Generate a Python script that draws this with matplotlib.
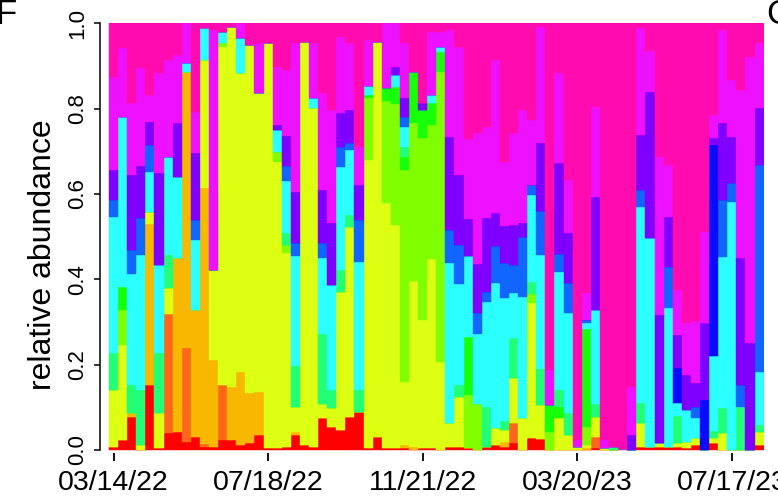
import numpy as np
import matplotlib
matplotlib.use("Agg")
import matplotlib.pyplot as plt
from matplotlib import font_manager

# Weekly samples, relative abundance (%) per taxon group, bottom to top of each stack
red = [0.8, 2.3, 7.7, 0, 15.2, 0.4, 3.9, 4.3, 2.0, 3.1,
       0.6, 0.8, 2.3, 2.3, 1.2, 1.6, 3.5, 0.4, 0.4, 0.8,
       3.5, 1.2, 0.8, 7.4, 5.5, 4.7, 7.8, 9.0, 0.4, 3.1,
       0.4, 0.4, 0.4, 0, 0.4, 0.4, 0, 0.8, 0.8, 0.4,
       0, 0.8, 1.2, 0.8, 1.6, 0, 2.7, 2.7, 0, 0,
       0, 0, 0, 0.4, 0, 0, 0.3, 0, 0.8, 0.8,
       0.8, 0.8, 0.8, 0.4, 1.2, 0, 1.6, 0, 0, 0,
       0, 1.2]
orange_red = [0, 0, 0, 0, 0, 0, 28.0, 0, 21.9, 0,
              0.9, 0, 12.9, 0, 0, 0, 0, 0, 0, 0,
              0, 0, 0, 0, 0, 0, 0, 0, 0, 0,
              0, 0, 0, 0, 0, 0, 0, 0, 0, 0,
              0, 0, 0, 0, 4.7, 0, 0, 0, 0, 0,
              0, 0, 0, 2.7, 0, 0, 0, 0, 0, 0,
              0, 0, 0, 0, 0, 0, 0, 0, 0, 0,
              0, 0]
orange = [0, 0, 0.9, 0, 37.9, 0, 0, 40.6, 64.8, 29.7,
          59.8, 20.3, 0, 12.5, 17.2, 11.7, 10.2, 0, 0, 0,
          0.8, 0, 0, 0, 0, 0, 0, 0, 0, 0,
          0, 0, 0.8, 0.6, 0, 0, 0, 0, 0, 0,
          0, 0, 0, 1.2, 0, 0, 0, 0, 0, 0,
          0, 0, 0.4, 0, 0, 0, 0, 0, 0, 0,
          0, 0, 0, 0, 0, 0, 0, 0, 0, 0,
          0, 0]
yellow = [13.3, 22.3, 0, 1.2, 2.7, 8.2, 6.0, 0, 0, 0,
          30.1, 21.1, 79.3, 84.4, 69.9, 81.6, 69.9, 94.9, 67.2, 45.3,
          5.9, 94.5, 79.3, 3.5, 4.3, 32.4, 44.5, 0, 67.6, 92.6,
          57.4, 52.3, 14.8, 38.9, 30.1, 44.5, 20.7, 5.5, 11.7, 0,
          0, 0, 3.9, 2.7, 10.5, 7.4, 31.6, 7.8, 0, 7.4,
          3.5, 0.8, 0.8, 4.7, 0.4, 0, 0, 0, 5.5, 0,
          0.8, 0, 0.8, 1.6, 1.6, 0, 1.2, 3.9, 0, 0,
          0, 3.1]
chartreuse = [0, 8.2, 0, 0, 0, 0, 0, 0, 0, 0,
              0, 0, 0.8, 0, 0, 0, 0, 0, 2.3, 2.0,
              0, 0, 0, 0, 0, 0, 0, 0, 14.5, 0,
              23.8, 28.5, 49.6, 37.1, 42.6, 31.3, 68.0, 0, 0, 12.5,
              10.9, 0, 0, 0, 0, 0, 2.3, 0, 4.3, 0,
              0, 0, 4.3, 0, 0, 0, 0, 0, 0, 0,
              0, 0, 0, 0, 0, 0, 0, 0, 0, 0,
              0, 0]
green = [0, 5.5, 0, 0, 0, 0, 0, 0, 0, 0,
         0, 0, 0, 0, 0, 0, 0, 0, 0, 0,
         0, 0, 0, 0, 0, 0, 0, 0, 0.8, 0,
         3.1, 3.9, 3.1, 12.1, 6.6, 5.1, 4.7, 0, 0, 13.7,
         0, 0, 0, 0, 0, 0, 0, 0, 6.3, 2.7,
         0, 0, 23.0, 0, 0, 0, 0, 0, 0, 0,
         0, 0, 0, 0, 0, 0, 0, 0, 0, 0,
         0, 0]
spring = [8.6, 0, 6.6, 12.9, 0, 14.1, 7.8, 0, 0, 0,
          0, 0, 0, 0, 0, 0, 0, 0, 0, 2.7,
          9.4, 0, 0, 16.4, 4.3, 5.1, 2.7, 5.1, 0, 0,
          0, 0, 2.3, 0, 0, 0, 0, 0, 2.7, 0,
          0, 9.4, 0, 2.0, 9.4, 0, 2.7, 8.6, 0, 3.9,
          5.1, 0, 0, 3.1, 0, 0.8, 0, 0, 4.7, 0,
          0, 0, 6.3, 0, 0, 0, 1.6, 5.9, 0, 10.2,
          0, 1.6]
cyan = [32.0, 39.8, 26.2, 31.6, 9.4, 20.7, 23.0, 19.1, 2.0, 16.4,
        7.4, 0, 2.7, 0, 8.2, 0, 0, 0, 5.1, 12.1,
        25.8, 0, 2.3, 17.6, 24.6, 24.2, 15.2, 30.1, 2.0, 0,
        0, 2.7, 4.7, 0, 0, 2.0, 1.2, 37.5, 23.8, 19.1,
        16.4, 24.6, 34.0, 28.9, 10.5, 28.5, 20.3, 26.6, 0, 27.7,
        23.4, 0, 1.2, 21.9, 0, 0, 0, 0, 46.1, 48.8,
        0, 32.4, 3.1, 7.4, 4.7, 0, 17.6, 35.5, 58.2, 0,
        0, 12.5]
azure = [3.9, 0, 5.5, 8.6, 6.3, 0, 0, 0, 0, 4.7,
         0, 0, 0, 0, 0, 0, 0, 0, 0, 3.5,
         3.1, 0, 0, 3.5, 0, 4.7, 1.6, 9.8, 0, 0,
         0, 0, 2.3, 0, 0, 0, 0, 7.8, 9.0, 0,
         4.7, 2.3, 8.6, 8.2, 6.6, 14.1, 2.3, 10.2, 0, 4.3,
         7.0, 0, 0.8, 0, 0, 0, 0, 0, 3.9, 0,
         0, 9.8, 0, 0, 2.7, 0, 0, 13.3, 4.3, 5.1,
         0, 48.4]
blue = [0] * 62 + [8.2, 0, 0, 11.7, 49.6, 0, 0, 0, 0, 0]
violet = [7.0, 0, 17.6, 12.1, 5.5, 21.5, 0, 12.5, 0, 15.6,
          0, 0, 0, 0, 0, 0, 0, 0, 1.2, 7.0,
          12.1, 0, 0, 12.5, 14.5, 7.8, 7.8, 8.2, 0, 0,
          0, 2.0, 4.3, 0, 1.6, 0, 0, 21.9, 16.4, 8.6,
          11.7, 17.2, 7.8, 8.6, 9.4, 3.1, 0, 16.0, 0, 21.1,
          11.7, 0, 0, 26.6, 0, 0, 0, 3.5, 12.9, 34.4,
          30.1, 11.7, 7.8, 8.2, 5.5, 18.0, 1.6, 18.0, 10.9, 29.7,
          25.0, 13.3]
magenta = [21.9, 16.0, 16.8, 23.0, 6.3, 23.4, 22.7, 16.0, 9.4, 9.8,
           0, 56.3, 0, 0, 3.5, 0, 11.7, 0, 13.7, 15.6,
           34.8, 0, 12.9, 22.7, 26.6, 18.0, 15.6, 9.0, 10.9, 0,
           15.2, 10.2, 12.9, 0, 0, 14.8, 3.5, 25.0, 30.1, 18.8,
           30.5, 21.5, 35.9, 15.2, 21.5, 26.6, 15.2, 27.3, 8.2, 21.1,
           12.5, 1.6, 6.3, 21.1, 1.9, 0, 0, 11.3, 25.0, 9.4,
           37.1, 12.1, 10.5, 12.1, 14.5, 21.5, 5.5, 21.9, 13.3, 39.5,
           67.2, 15.2]
pink = [12.5, 5.9, 18.8, 10.5, 16.8, 11.7, 8.6, 7.4, 0, 20.7,
        1.2, 1.6, 2.0, 0.8, 0, 5.1, 4.7, 4.7, 10.2, 10.9,
        4.7, 4.3, 4.7, 16.4, 20.3, 3.1, 4.7, 28.9, 3.9, 4.3,
        0, 0, 4.7, 11.3, 18.8, 2.0, 2.0, 1.6, 5.5, 27.3,
        25.8, 24.2, 8.6, 32.4, 25.8, 20.3, 22.7, 0.8, 81.3, 11.7,
        36.7, 97.7, 63.3, 19.5, 97.7, 99.2, 99.7, 85.2, 1.2, 6.6,
        31.3, 33.2, 62.5, 70.3, 69.9, 48.8, 21.5, 1.6, 13.3, 15.6,
        7.8, 4.7]

groups = [red, orange_red, orange, yellow, chartreuse, green, spring,
          cyan, azure, blue, violet, magenta, pink]
colors = ["#FF0000", "#FF6619", "#F8B800", "#DDFF11", "#80FF00", "#18FF0A",
          "#22FF77", "#2CFFFF", "#1166FF", "#0A0AFF", "#7F00FF", "#EE11FF",
          "#FF0BB0"]

tick_idx = [0, 17, 34, 51, 68]
tick_labels = ["03/14/22", "07/18/22", "11/21/22", "03/20/23", "07/17/23"]

available = {f.name for f in font_manager.fontManager.ttflist}
narrow = "Liberation Sans Narrow" if "Liberation Sans Narrow" in available else "Liberation Sans"

data = np.array(groups, dtype=float)
data = data / data.sum(axis=0)
n = data.shape[1]
x = np.arange(n)

W, H = 778, 504
fig = plt.figure(figsize=(W / 100, H / 100), dpi=100)
ax = fig.add_axes([100 / W, (H - 452.6) / H, (763.6 - 100) / W, (452.6 - 23.3) / H])

bottom = np.zeros(n)
for vals, col in zip(data, colors):
    ax.bar(x, vals, bottom=bottom, width=1.0, color=col, edgecolor=col,
           linewidth=0.3, align="center")
    bottom += vals

ax.set_xlim(-1.49, n - 0.5)
ax.set_ylim(-0.006, 1.0)

for s in ("top", "right", "bottom"):
    ax.spines[s].set_visible(False)
ax.spines["left"].set_bounds(0, 1)
ax.spines["left"].set_linewidth(1.1)

ax.set_yticks([0, 0.2, 0.4, 0.6, 0.8, 1.0])
ax.set_yticklabels(["0.0", "0.2", "0.4", "0.6", "0.8", "1.0"], rotation=90,
                   va="center", family=narrow, fontsize=16)
ax.tick_params(axis="y", length=4.2, width=1.1, pad=4)

ax.set_xticks(tick_idx)
ax.set_xticklabels(tick_labels, family=narrow, fontsize=20.5)
ax.tick_params(axis="x", length=5.5, width=1.3, pad=7)

fig.text(43 / W, 1 - 255 / H, "relative abundance", rotation=90,
         ha="center", va="center", family="Liberation Sans", fontsize=23)
fig.text(-0.006, 1 - 15 / H, "F", ha="left", va="center",
         family="Liberation Sans", fontsize=25)
fig.text(766 / W, 1 - 15 / H, "G", ha="left", va="center",
         family="Liberation Sans", fontsize=25)

fig.savefig("out.png", dpi=100)
